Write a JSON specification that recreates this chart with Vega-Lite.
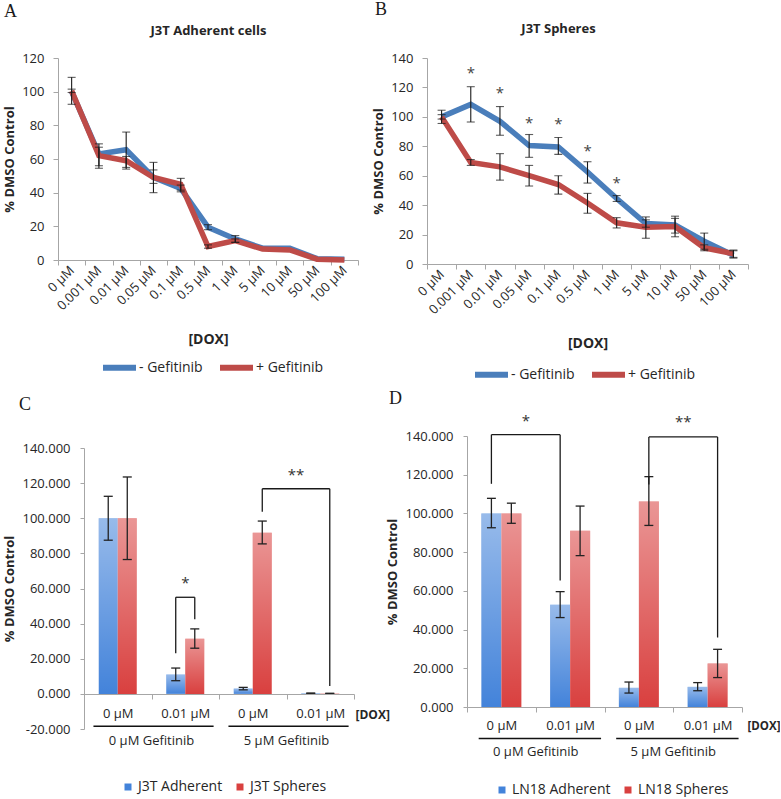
{
  "$schema": "https://vega.github.io/schema/vega-lite/v6.json",
  "background": "white",
  "padding": {"left": 3, "top": 1, "right": 0, "bottom": 0},
  "config": {
    "font": "Open Sans",
    "view": {"stroke": null},
    "axis": {"grid": false, "domainColor": "#a6a6a6", "tickColor": "#a6a6a6", "labelColor": "#262626", "labelFontSize": 13, "titleFontSize": 13, "titleFontWeight": "bold", "titleColor": "#262626", "labelFont": "Open Sans", "titleFont": "Open Sans", "labelOverlap": false},
    "legend": {"labelFontSize": 14, "labelColor": "#262626", "labelFont": "Open Sans"},
    "title": {"font": "Liberation Serif", "fontSize": 18, "fontWeight": "normal", "color": "#1a1a1a", "anchor": "start", "frame": "group"},
    "text": {"font": "Open Sans"}
  },
  "resolve": {"scale": {"color": "independent", "x": "independent", "y": "independent"}, "legend": {"color": "independent"}},
  "columns": 1,
  "align": "none",
  "spacing": 2,
  "concat": [
    {
      "hconcat": [
        {
          "hconcat": [
            {"width": 1, "height": 1, "data": {"values": [{"a": 1}]}, "mark": {"type": "point", "opacity": 0, "size": 0}, "encoding": {}},
            {
              "width": 300, "height": 202,
              "title": {"text": "A", "dx": -54, "offset": 3},
              "data": {"values": [
                {"dose": "0 µM", "gef": "- Gefitinib", "v": 100, "lo": 92.5, "hi": 108.5},
                {"dose": "0.001 µM", "gef": "- Gefitinib", "v": 63, "lo": 56, "hi": 69},
                {"dose": "0.01 µM", "gef": "- Gefitinib", "v": 65.5, "lo": 55, "hi": 76},
                {"dose": "0.05 µM", "gef": "- Gefitinib", "v": 49, "lo": 40, "hi": 58},
                {"dose": "0.1 µM", "gef": "- Gefitinib", "v": 42.5, "lo": 40.5, "hi": 44.5},
                {"dose": "0.5 µM", "gef": "- Gefitinib", "v": 19.5, "lo": 18, "hi": 21},
                {"dose": "1 µM", "gef": "- Gefitinib", "v": 12.5, "lo": 10.5, "hi": 14.5},
                {"dose": "5 µM", "gef": "- Gefitinib", "v": 7, "lo": null, "hi": null},
                {"dose": "10 µM", "gef": "- Gefitinib", "v": 7, "lo": null, "hi": null},
                {"dose": "50 µM", "gef": "- Gefitinib", "v": 0.8, "lo": null, "hi": null},
                {"dose": "100 µM", "gef": "- Gefitinib", "v": 0.4, "lo": null, "hi": null},
                {"dose": "0 µM", "gef": "+ Gefitinib", "v": 100.5, "lo": 99.5, "hi": 101.5},
                {"dose": "0.001 µM", "gef": "+ Gefitinib", "v": 62, "lo": 54.5, "hi": 67},
                {"dose": "0.01 µM", "gef": "+ Gefitinib", "v": 59, "lo": 54, "hi": 61.5},
                {"dose": "0.05 µM", "gef": "+ Gefitinib", "v": 49, "lo": 45.5, "hi": 53.5},
                {"dose": "0.1 µM", "gef": "+ Gefitinib", "v": 45, "lo": 41.5, "hi": 48.5},
                {"dose": "0.5 µM", "gef": "+ Gefitinib", "v": 8, "lo": 7, "hi": 9},
                {"dose": "1 µM", "gef": "+ Gefitinib", "v": 11.5, "lo": 10.5, "hi": 12.5},
                {"dose": "5 µM", "gef": "+ Gefitinib", "v": 6.5, "lo": null, "hi": null},
                {"dose": "10 µM", "gef": "+ Gefitinib", "v": 6, "lo": null, "hi": null},
                {"dose": "50 µM", "gef": "+ Gefitinib", "v": 0.5, "lo": null, "hi": null},
                {"dose": "100 µM", "gef": "+ Gefitinib", "v": 0, "lo": null, "hi": null}
              ]},
              "resolve": {"axis": {"x": "independent"}},
              "layer": [
                {
                  "transform": [{"filter": "datum.gef === '- Gefitinib'"}],
                  "mark": {"type": "line", "strokeWidth": 5.5},
                  "encoding": {
                    "x": {"field": "dose", "type": "ordinal", "sort": ["0 µM","0.001 µM","0.01 µM","0.05 µM","0.1 µM","0.5 µM","1 µM","5 µM","10 µM","50 µM","100 µM"], "scale": {"type": "band", "paddingInner": 0, "paddingOuter": 0}, "axis": {"title": "[DOX]", "labelAngle": -45, "labelAlign": "right", "labelBaseline": "middle", "tickBand": "extent", "tickSize": 5, "labelPadding": 3, "titlePadding": 20, "titleFontSize": 14}},
                    "y": {"field": "v", "type": "quantitative", "title": "% DMSO Control", "scale": {"domain": [0, 120]}, "axis": {"values": [0,20,40,60,80,100,120], "tickSize": 5, "labelPadding": 9, "titlePadding": 5}},
                    "color": {"field": "gef", "type": "nominal", "scale": {"domain": ["- Gefitinib", "+ Gefitinib"], "range": ["#4A7EBB", "#BE4B48"]}, "legend": {"title": null, "orient": "none", "direction": "horizontal", "legendX": 97, "legendY": 290, "symbolType": "stroke", "symbolSize": 1089, "symbolStrokeWidth": 6, "labelOffset": 0, "columnPadding": 5}}
                  }
                },
                {
                  "transform": [{"filter": "datum.gef === '+ Gefitinib'"}],
                  "mark": {"type": "line", "strokeWidth": 5.5},
                  "encoding": {
                    "x": {"field": "dose", "type": "ordinal", "sort": ["0 µM","0.001 µM","0.01 µM","0.05 µM","0.1 µM","0.5 µM","1 µM","5 µM","10 µM","50 µM","100 µM"], "scale": {"type": "band", "paddingInner": 0, "paddingOuter": 0}, "axis": null},
                    "y": {"field": "v", "type": "quantitative", "title": "% DMSO Control", "scale": {"domain": [0, 120]}, "axis": {"values": [0,20,40,60,80,100,120], "tickSize": 5, "labelPadding": 9, "titlePadding": 5}},
                    "color": {"field": "gef", "type": "nominal", "scale": {"domain": ["- Gefitinib", "+ Gefitinib"], "range": ["#4A7EBB", "#BE4B48"]}, "legend": {"title": null, "orient": "none", "direction": "horizontal", "legendX": 97, "legendY": 290, "symbolType": "stroke", "symbolSize": 1089, "symbolStrokeWidth": 6, "labelOffset": 0, "columnPadding": 5}}
                  }
                },
                {
                  "transform": [{"filter": "isValid(datum.lo)"}],
                  "mark": {"type": "rule", "color": "#1a1a1a", "strokeWidth": 1.1},
                  "encoding": {
                    "x": {"field": "dose", "type": "ordinal", "sort": ["0 µM","0.001 µM","0.01 µM","0.05 µM","0.1 µM","0.5 µM","1 µM","5 µM","10 µM","50 µM","100 µM"], "scale": {"type": "band", "paddingInner": 0, "paddingOuter": 0}, "axis": null},
                    "y": {"field": "lo", "type": "quantitative", "title": "% DMSO Control", "scale": {"domain": [0, 120]}, "axis": {"values": [0,20,40,60,80,100,120], "tickSize": 5, "labelPadding": 9, "titlePadding": 5}},
                    "y2": {"field": "hi"}
                  }
                },
                {
                  "transform": [{"filter": "isValid(datum.lo)"}],
                  "mark": {"type": "tick", "color": "#1a1a1a", "thickness": 1.1, "size": 8},
                  "encoding": {
                    "x": {"field": "dose", "type": "ordinal", "sort": ["0 µM","0.001 µM","0.01 µM","0.05 µM","0.1 µM","0.5 µM","1 µM","5 µM","10 µM","50 µM","100 µM"], "scale": {"type": "band", "paddingInner": 0, "paddingOuter": 0}, "axis": null},
                    "y": {"field": "lo", "type": "quantitative", "title": "% DMSO Control", "scale": {"domain": [0, 120]}, "axis": {"values": [0,20,40,60,80,100,120], "tickSize": 5, "labelPadding": 9, "titlePadding": 5}}
                  }
                },
                {
                  "transform": [{"filter": "isValid(datum.hi)"}],
                  "mark": {"type": "tick", "color": "#1a1a1a", "thickness": 1.1, "size": 8},
                  "encoding": {
                    "x": {"field": "dose", "type": "ordinal", "sort": ["0 µM","0.001 µM","0.01 µM","0.05 µM","0.1 µM","0.5 µM","1 µM","5 µM","10 µM","50 µM","100 µM"], "scale": {"type": "band", "paddingInner": 0, "paddingOuter": 0}, "axis": {"orient": "top", "title": "J3T Adherent cells", "labels": false, "ticks": false, "domain": false, "titlePadding": 21}},
                    "y": {"field": "hi", "type": "quantitative", "title": "% DMSO Control", "scale": {"domain": [0, 120]}, "axis": {"values": [0,20,40,60,80,100,120], "tickSize": 5, "labelPadding": 9, "titlePadding": 5}}
                  }
                }
              ]
            }
          ],
          "spacing": -1
        },
        {
          "width": 321, "height": 206,
          "title": {"text": "B", "dx": -52, "offset": 3},
          "data": {"values": [
            {"dose": "0 µM", "gef": "- Gefitinib", "v": 100, "lo": 95.5, "hi": 104.5},
            {"dose": "0.001 µM", "gef": "- Gefitinib", "v": 108.5, "lo": 96.5, "hi": 120.5},
            {"dose": "0.01 µM", "gef": "- Gefitinib", "v": 97, "lo": 87.5, "hi": 107},
            {"dose": "0.05 µM", "gef": "- Gefitinib", "v": 80.5, "lo": 72.5, "hi": 88},
            {"dose": "0.1 µM", "gef": "- Gefitinib", "v": 79.5, "lo": 74.5, "hi": 86},
            {"dose": "0.5 µM", "gef": "- Gefitinib", "v": 62.5, "lo": 55, "hi": 69.5},
            {"dose": "1 µM", "gef": "- Gefitinib", "v": 44.5, "lo": 42.5, "hi": 46.5},
            {"dose": "5 µM", "gef": "- Gefitinib", "v": 27.5, "lo": 25, "hi": 30},
            {"dose": "10 µM", "gef": "- Gefitinib", "v": 26.5, "lo": 21, "hi": 32.5},
            {"dose": "50 µM", "gef": "- Gefitinib", "v": 15.5, "lo": 10, "hi": 21},
            {"dose": "100 µM", "gef": "- Gefitinib", "v": 6, "lo": 4, "hi": 9},
            {"dose": "0 µM", "gef": "+ Gefitinib", "v": 100, "lo": 98.5, "hi": 101.5},
            {"dose": "0.001 µM", "gef": "+ Gefitinib", "v": 69, "lo": 67, "hi": 71},
            {"dose": "0.01 µM", "gef": "+ Gefitinib", "v": 66, "lo": 57, "hi": 75},
            {"dose": "0.05 µM", "gef": "+ Gefitinib", "v": 60, "lo": 53, "hi": 67},
            {"dose": "0.1 µM", "gef": "+ Gefitinib", "v": 54, "lo": 47.5, "hi": 60},
            {"dose": "0.5 µM", "gef": "+ Gefitinib", "v": 41.5, "lo": 34.5, "hi": 48},
            {"dose": "1 µM", "gef": "+ Gefitinib", "v": 28, "lo": 24.5, "hi": 31.5},
            {"dose": "5 µM", "gef": "+ Gefitinib", "v": 25, "lo": 17.5, "hi": 32},
            {"dose": "10 µM", "gef": "+ Gefitinib", "v": 25.5, "lo": 18.5, "hi": 31},
            {"dose": "50 µM", "gef": "+ Gefitinib", "v": 11, "lo": 9, "hi": 13},
            {"dose": "100 µM", "gef": "+ Gefitinib", "v": 7, "lo": 4.5, "hi": 9.5}
          ]},
          "resolve": {"axis": {"x": "independent"}},
          "layer": [
            {
              "transform": [{"filter": "datum.gef === '- Gefitinib'"}],
              "mark": {"type": "line", "strokeWidth": 5.5},
              "encoding": {
                "x": {"field": "dose", "type": "ordinal", "sort": ["0 µM","0.001 µM","0.01 µM","0.05 µM","0.1 µM","0.5 µM","1 µM","5 µM","10 µM","50 µM","100 µM"], "scale": {"type": "band", "paddingInner": 0, "paddingOuter": 0}, "axis": {"title": "[DOX]", "labelAngle": -45, "labelAlign": "right", "labelBaseline": "middle", "tickBand": "extent", "tickSize": 5, "labelPadding": 3, "titlePadding": 20, "titleFontSize": 14}},
                "y": {"field": "v", "type": "quantitative", "title": "% DMSO Control", "scale": {"domain": [0, 140]}, "axis": {"values": [0,20,40,60,80,100,120,140], "tickSize": 5, "labelPadding": 9, "titlePadding": 5}},
                "color": {"field": "gef", "type": "nominal", "scale": {"domain": ["- Gefitinib", "+ Gefitinib"], "range": ["#4A7EBB", "#BE4B48"]}, "legend": {"title": null, "orient": "none", "direction": "horizontal", "legendX": 45, "legendY": 297, "symbolType": "stroke", "symbolSize": 1089, "symbolStrokeWidth": 6, "labelOffset": 0, "columnPadding": 5}}
              }
            },
            {
              "transform": [{"filter": "datum.gef === '+ Gefitinib'"}],
              "mark": {"type": "line", "strokeWidth": 5.5},
              "encoding": {
                "x": {"field": "dose", "type": "ordinal", "sort": ["0 µM","0.001 µM","0.01 µM","0.05 µM","0.1 µM","0.5 µM","1 µM","5 µM","10 µM","50 µM","100 µM"], "scale": {"type": "band", "paddingInner": 0, "paddingOuter": 0}, "axis": null},
                "y": {"field": "v", "type": "quantitative", "title": "% DMSO Control", "scale": {"domain": [0, 140]}, "axis": {"values": [0,20,40,60,80,100,120,140], "tickSize": 5, "labelPadding": 9, "titlePadding": 5}},
                "color": {"field": "gef", "type": "nominal", "scale": {"domain": ["- Gefitinib", "+ Gefitinib"], "range": ["#4A7EBB", "#BE4B48"]}, "legend": {"title": null, "orient": "none", "direction": "horizontal", "legendX": 45, "legendY": 297, "symbolType": "stroke", "symbolSize": 1089, "symbolStrokeWidth": 6, "labelOffset": 0, "columnPadding": 5}}
              }
            },
            {
              "mark": {"type": "rule", "color": "#1a1a1a", "strokeWidth": 1.1},
              "encoding": {
                "x": {"field": "dose", "type": "ordinal", "sort": ["0 µM","0.001 µM","0.01 µM","0.05 µM","0.1 µM","0.5 µM","1 µM","5 µM","10 µM","50 µM","100 µM"], "scale": {"type": "band", "paddingInner": 0, "paddingOuter": 0}, "axis": null},
                "y": {"field": "lo", "type": "quantitative", "title": "% DMSO Control", "scale": {"domain": [0, 140]}, "axis": {"values": [0,20,40,60,80,100,120,140], "tickSize": 5, "labelPadding": 9, "titlePadding": 5}},
                "y2": {"field": "hi"}
              }
            },
            {
              "mark": {"type": "tick", "color": "#1a1a1a", "thickness": 1.1, "size": 8},
              "encoding": {
                "x": {"field": "dose", "type": "ordinal", "sort": ["0 µM","0.001 µM","0.01 µM","0.05 µM","0.1 µM","0.5 µM","1 µM","5 µM","10 µM","50 µM","100 µM"], "scale": {"type": "band", "paddingInner": 0, "paddingOuter": 0}, "axis": null},
                "y": {"field": "lo", "type": "quantitative", "title": "% DMSO Control", "scale": {"domain": [0, 140]}, "axis": {"values": [0,20,40,60,80,100,120,140], "tickSize": 5, "labelPadding": 9, "titlePadding": 5}}
              }
            },
            {
              "mark": {"type": "tick", "color": "#1a1a1a", "thickness": 1.1, "size": 8},
              "encoding": {
                "x": {"field": "dose", "type": "ordinal", "sort": ["0 µM","0.001 µM","0.01 µM","0.05 µM","0.1 µM","0.5 µM","1 µM","5 µM","10 µM","50 µM","100 µM"], "scale": {"type": "band", "paddingInner": 0, "paddingOuter": 0}, "axis": {"orient": "top", "title": "J3T Spheres", "labels": false, "ticks": false, "domain": false, "titlePadding": 23, "titleX": 131, "titleAlign": "center"}},
                "y": {"field": "hi", "type": "quantitative", "title": "% DMSO Control", "scale": {"domain": [0, 140]}, "axis": {"values": [0,20,40,60,80,100,120,140], "tickSize": 5, "labelPadding": 9, "titlePadding": 5}}
              }
            },
            {
              "data": {"values": [
                {"dose": "0.001 µM", "s": 129.6, "label": "*"},
                {"dose": "0.01 µM", "s": 116.1, "label": "*"},
                {"dose": "0.05 µM", "s": 96.1, "label": "*"},
                {"dose": "0.1 µM", "s": 95.4, "label": "*"},
                {"dose": "0.5 µM", "s": 77.1, "label": "*"},
                {"dose": "1 µM", "s": 55.3, "label": "*"}
              ]},
              "mark": {"type": "text", "fontSize": 15, "color": "#444444", "baseline": "middle"},
              "encoding": {
                "x": {"field": "dose", "type": "ordinal", "sort": ["0 µM","0.001 µM","0.01 µM","0.05 µM","0.1 µM","0.5 µM","1 µM","5 µM","10 µM","50 µM","100 µM"], "scale": {"type": "band", "paddingInner": 0, "paddingOuter": 0, "domain": ["0 µM","0.001 µM","0.01 µM","0.05 µM","0.1 µM","0.5 µM","1 µM","5 µM","10 µM","50 µM","100 µM"]}, "axis": null},
                "y": {"field": "s", "type": "quantitative", "title": "% DMSO Control", "scale": {"domain": [0, 140]}, "axis": {"values": [0,20,40,60,80,100,120,140], "tickSize": 5, "labelPadding": 9, "titlePadding": 5}},
                "text": {"field": "label"}
              }
            }
          ]
        }
      ],
      "spacing": 13,
      "resolve": {"scale": {"color": "independent", "x": "independent", "y": "independent"}, "legend": {"color": "independent"}}
    },
    {
      "hconcat": [
        {
          "hconcat": [
            {"width": 1, "height": 1, "data": {"values": [{"a": 1}]}, "mark": {"type": "point", "opacity": 0, "size": 0}, "encoding": {}},
            {
              "vconcat": [
                {
                  "width": 270, "height": 1,
                  "title": {"text": "C", "dx": -65, "offset": 22},
                  "data": {"values": [{"a": 1}]},
                  "mark": {"type": "point", "opacity": 0, "size": 0},
                  "encoding": {}
                },
                {
                  "width": 270, "height": 281,
                  "data": {"values": [
                    {"cond": "0 µM (0 µM Gefitinib)", "series": "J3T Adherent", "v": 100, "lo": 87.5, "hi": 112.5},
                    {"cond": "0 µM (0 µM Gefitinib)", "series": "J3T Spheres", "v": 100, "lo": 76.5, "hi": 123.5},
                    {"cond": "0.01 µM (0 µM Gefitinib)", "series": "J3T Adherent", "v": 11, "lo": 7.5, "hi": 14.7},
                    {"cond": "0.01 µM (0 µM Gefitinib)", "series": "J3T Spheres", "v": 31.4, "lo": 26, "hi": 37},
                    {"cond": "0 µM (5 µM Gefitinib)", "series": "J3T Adherent", "v": 3, "lo": 2.3, "hi": 3.7},
                    {"cond": "0 µM (5 µM Gefitinib)", "series": "J3T Spheres", "v": 91.8, "lo": 85.4, "hi": 98.4},
                    {"cond": "0.01 µM (5 µM Gefitinib)", "series": "J3T Adherent", "v": 0.3, "lo": 0.1, "hi": 0.5},
                    {"cond": "0.01 µM (5 µM Gefitinib)", "series": "J3T Spheres", "v": 0.2, "lo": 0.05, "hi": 0.35}
                  ]},
                  "layer": [
                    {
                      "transform": [{"filter": "datum.series === 'J3T Adherent'"}],
                      "mark": {"type": "rect"},
                      "encoding": {
                        "x": {"field": "cond", "type": "nominal", "title": "[DOX]", "bandPosition": 0.2185, "scale": {"type": "band", "domain": ["0 µM (0 µM Gefitinib)", "0.01 µM (0 µM Gefitinib)", "0 µM (5 µM Gefitinib)", "0.01 µM (5 µM Gefitinib)"], "paddingInner": 0, "paddingOuter": 0}, "axis": {"offset": -35, "labelExpr": "split(datum.label, ' (')[0]", "labelAngle": 0, "tickBand": "extent", "tickSize": 5, "labelPadding": 8, "titleX": 271, "titleY": 20, "titleAlign": "left", "titleBaseline": "middle", "titleAngle": 0, "titleFontSize": 12}},
                        "x2": {"field": "cond", "bandPosition": 0.5},
                        "y": {"field": "v", "type": "quantitative", "title": "% DMSO Control", "scale": {"domain": [-20, 140]}, "axis": {"values": [-20,0,20,40,60,80,100,120,140], "labelExpr": "replace(format(datum.value, '.3f'), '−', '-')", "tickSize": 4, "labelPadding": 10, "titlePadding": 5, "labelOverlap": false}},
                        "y2": {"datum": 0},
                        "color": {"field": "series", "type": "nominal", "scale": {"domain": ["J3T Adherent", "J3T Spheres"], "range": ["#4383da", "#d9403f"]}, "legend": {"title": null, "orient": "none", "direction": "horizontal", "legendX": 118, "legendY": 344, "symbolType": "square", "symbolSize": 49, "symbolStrokeWidth": 0, "labelOffset": 3, "columnPadding": 10}}
                      }
                    },
                    {
                      "transform": [{"filter": "datum.series === 'J3T Spheres'"}],
                      "mark": {"type": "rect"},
                      "encoding": {
                        "x": {"field": "cond", "type": "nominal", "title": "[DOX]", "bandPosition": 0.5, "scale": {"type": "band", "domain": ["0 µM (0 µM Gefitinib)", "0.01 µM (0 µM Gefitinib)", "0 µM (5 µM Gefitinib)", "0.01 µM (5 µM Gefitinib)"], "paddingInner": 0, "paddingOuter": 0}, "axis": {"offset": -35, "labelExpr": "split(datum.label, ' (')[0]", "labelAngle": 0, "tickBand": "extent", "tickSize": 5, "labelPadding": 8, "titleX": 271, "titleY": 20, "titleAlign": "left", "titleBaseline": "middle", "titleAngle": 0, "titleFontSize": 12}},
                        "x2": {"field": "cond", "bandPosition": 0.7815},
                        "y": {"field": "v", "type": "quantitative", "title": "% DMSO Control", "scale": {"domain": [-20, 140]}, "axis": {"values": [-20,0,20,40,60,80,100,120,140], "labelExpr": "replace(format(datum.value, '.3f'), '−', '-')", "tickSize": 4, "labelPadding": 10, "titlePadding": 5, "labelOverlap": false}},
                        "y2": {"datum": 0},
                        "color": {"field": "series", "type": "nominal", "scale": {"domain": ["J3T Adherent", "J3T Spheres"], "range": ["#4383da", "#d9403f"]}, "legend": {"title": null, "orient": "none", "direction": "horizontal", "legendX": 118, "legendY": 344, "symbolType": "square", "symbolSize": 49, "symbolStrokeWidth": 0, "labelOffset": 3, "columnPadding": 10}}
                      }
                    },
                    {
                      "transform": [{"filter": "datum.series === 'J3T Adherent'"}],
                      "mark": {"type": "rect", "fill": {"gradient": "linear", "x1": 0, "y1": 0, "x2": 0, "y2": 1, "stops": [{"offset": 0, "color": "rgba(255,255,255,0.45)"}, {"offset": 1, "color": "rgba(255,255,255,0)"}]}},
                      "encoding": {
                        "x": {"field": "cond", "type": "nominal", "title": "[DOX]", "bandPosition": 0.2185, "scale": {"type": "band", "domain": ["0 µM (0 µM Gefitinib)", "0.01 µM (0 µM Gefitinib)", "0 µM (5 µM Gefitinib)", "0.01 µM (5 µM Gefitinib)"], "paddingInner": 0, "paddingOuter": 0}, "axis": {"offset": -35, "labelExpr": "split(datum.label, ' (')[0]", "labelAngle": 0, "tickBand": "extent", "tickSize": 5, "labelPadding": 8, "titleX": 271, "titleY": 20, "titleAlign": "left", "titleBaseline": "middle", "titleAngle": 0, "titleFontSize": 12}},
                        "x2": {"field": "cond", "bandPosition": 0.5},
                        "y": {"field": "v", "type": "quantitative", "title": "% DMSO Control", "scale": {"domain": [-20, 140]}, "axis": {"values": [-20,0,20,40,60,80,100,120,140], "labelExpr": "replace(format(datum.value, '.3f'), '−', '-')", "tickSize": 4, "labelPadding": 10, "titlePadding": 5, "labelOverlap": false}},
                        "y2": {"datum": 0}
                      }
                    },
                    {
                      "transform": [{"filter": "datum.series === 'J3T Spheres'"}],
                      "mark": {"type": "rect", "fill": {"gradient": "linear", "x1": 0, "y1": 0, "x2": 0, "y2": 1, "stops": [{"offset": 0, "color": "rgba(255,255,255,0.45)"}, {"offset": 1, "color": "rgba(255,255,255,0)"}]}},
                      "encoding": {
                        "x": {"field": "cond", "type": "nominal", "title": "[DOX]", "bandPosition": 0.5, "scale": {"type": "band", "domain": ["0 µM (0 µM Gefitinib)", "0.01 µM (0 µM Gefitinib)", "0 µM (5 µM Gefitinib)", "0.01 µM (5 µM Gefitinib)"], "paddingInner": 0, "paddingOuter": 0}, "axis": {"offset": -35, "labelExpr": "split(datum.label, ' (')[0]", "labelAngle": 0, "tickBand": "extent", "tickSize": 5, "labelPadding": 8, "titleX": 271, "titleY": 20, "titleAlign": "left", "titleBaseline": "middle", "titleAngle": 0, "titleFontSize": 12}},
                        "x2": {"field": "cond", "bandPosition": 0.7815},
                        "y": {"field": "v", "type": "quantitative", "title": "% DMSO Control", "scale": {"domain": [-20, 140]}, "axis": {"values": [-20,0,20,40,60,80,100,120,140], "labelExpr": "replace(format(datum.value, '.3f'), '−', '-')", "tickSize": 4, "labelPadding": 10, "titlePadding": 5, "labelOverlap": false}},
                        "y2": {"datum": 0}
                      }
                    },
                    {
                      "transform": [{"filter": "datum.series === 'J3T Adherent'"}],
                      "mark": {"type": "rule", "color": "#222222", "strokeWidth": 1.3},
                      "encoding": {
                        "x": {"field": "cond", "type": "nominal", "title": "[DOX]", "bandPosition": 0.359, "scale": {"type": "band", "domain": ["0 µM (0 µM Gefitinib)", "0.01 µM (0 µM Gefitinib)", "0 µM (5 µM Gefitinib)", "0.01 µM (5 µM Gefitinib)"], "paddingInner": 0, "paddingOuter": 0}, "axis": {"offset": -35, "labelExpr": "split(datum.label, ' (')[0]", "labelAngle": 0, "tickBand": "extent", "tickSize": 5, "labelPadding": 8, "titleX": 271, "titleY": 20, "titleAlign": "left", "titleBaseline": "middle", "titleAngle": 0, "titleFontSize": 12}},
                        "y": {"field": "lo", "type": "quantitative", "title": "% DMSO Control", "scale": {"domain": [-20, 140]}, "axis": {"values": [-20,0,20,40,60,80,100,120,140], "labelExpr": "replace(format(datum.value, '.3f'), '−', '-')", "tickSize": 4, "labelPadding": 10, "titlePadding": 5, "labelOverlap": false}},
                        "y2": {"field": "hi"}
                      }
                    },
                    {
                      "transform": [{"filter": "datum.series === 'J3T Spheres'"}],
                      "mark": {"type": "rule", "color": "#222222", "strokeWidth": 1.3},
                      "encoding": {
                        "x": {"field": "cond", "type": "nominal", "title": "[DOX]", "bandPosition": 0.641, "scale": {"type": "band", "domain": ["0 µM (0 µM Gefitinib)", "0.01 µM (0 µM Gefitinib)", "0 µM (5 µM Gefitinib)", "0.01 µM (5 µM Gefitinib)"], "paddingInner": 0, "paddingOuter": 0}, "axis": {"offset": -35, "labelExpr": "split(datum.label, ' (')[0]", "labelAngle": 0, "tickBand": "extent", "tickSize": 5, "labelPadding": 8, "titleX": 271, "titleY": 20, "titleAlign": "left", "titleBaseline": "middle", "titleAngle": 0, "titleFontSize": 12}},
                        "y": {"field": "lo", "type": "quantitative", "title": "% DMSO Control", "scale": {"domain": [-20, 140]}, "axis": {"values": [-20,0,20,40,60,80,100,120,140], "labelExpr": "replace(format(datum.value, '.3f'), '−', '-')", "tickSize": 4, "labelPadding": 10, "titlePadding": 5, "labelOverlap": false}},
                        "y2": {"field": "hi"}
                      }
                    },
                    {
                      "transform": [{"filter": "datum.series === 'J3T Adherent'"}, {"fold": ["lo", "hi"], "as": ["k", "cap"]}],
                      "mark": {"type": "rule", "color": "#222222", "strokeWidth": 1.3},
                      "encoding": {
                        "x": {"field": "cond", "type": "nominal", "title": "[DOX]", "bandPosition": 0.292, "scale": {"type": "band", "domain": ["0 µM (0 µM Gefitinib)", "0.01 µM (0 µM Gefitinib)", "0 µM (5 µM Gefitinib)", "0.01 µM (5 µM Gefitinib)"], "paddingInner": 0, "paddingOuter": 0}, "axis": {"offset": -35, "labelExpr": "split(datum.label, ' (')[0]", "labelAngle": 0, "tickBand": "extent", "tickSize": 5, "labelPadding": 8, "titleX": 271, "titleY": 20, "titleAlign": "left", "titleBaseline": "middle", "titleAngle": 0, "titleFontSize": 12}},
                        "x2": {"field": "cond", "bandPosition": 0.426},
                        "y": {"field": "cap", "type": "quantitative", "title": "% DMSO Control", "scale": {"domain": [-20, 140]}, "axis": {"values": [-20,0,20,40,60,80,100,120,140], "labelExpr": "replace(format(datum.value, '.3f'), '−', '-')", "tickSize": 4, "labelPadding": 10, "titlePadding": 5, "labelOverlap": false}}
                      }
                    },
                    {
                      "transform": [{"filter": "datum.series === 'J3T Spheres'"}, {"fold": ["lo", "hi"], "as": ["k", "cap"]}],
                      "mark": {"type": "rule", "color": "#222222", "strokeWidth": 1.3},
                      "encoding": {
                        "x": {"field": "cond", "type": "nominal", "title": "[DOX]", "bandPosition": 0.574, "scale": {"type": "band", "domain": ["0 µM (0 µM Gefitinib)", "0.01 µM (0 µM Gefitinib)", "0 µM (5 µM Gefitinib)", "0.01 µM (5 µM Gefitinib)"], "paddingInner": 0, "paddingOuter": 0}, "axis": {"offset": -35, "labelExpr": "split(datum.label, ' (')[0]", "labelAngle": 0, "tickBand": "extent", "tickSize": 5, "labelPadding": 8, "titleX": 271, "titleY": 20, "titleAlign": "left", "titleBaseline": "middle", "titleAngle": 0, "titleFontSize": 12}},
                        "x2": {"field": "cond", "bandPosition": 0.708},
                        "y": {"field": "cap", "type": "quantitative", "title": "% DMSO Control", "scale": {"domain": [-20, 140]}, "axis": {"values": [-20,0,20,40,60,80,100,120,140], "labelExpr": "replace(format(datum.value, '.3f'), '−', '-')", "tickSize": 4, "labelPadding": 10, "titlePadding": 5, "labelOverlap": false}}
                      }
                    },
                    {
                      "data": {"values": [{"cond": "0.01 µM (0 µM Gefitinib)", "y1": 23.2, "y2": 55}]},
                      "mark": {"type": "rule", "color": "#1a1a1a", "strokeWidth": 1.3},
                      "encoding": {
                        "x": {"field": "cond", "type": "nominal", "title": "[DOX]", "bandPosition": 0.359, "scale": {"type": "band", "domain": ["0 µM (0 µM Gefitinib)", "0.01 µM (0 µM Gefitinib)", "0 µM (5 µM Gefitinib)", "0.01 µM (5 µM Gefitinib)"], "paddingInner": 0, "paddingOuter": 0}, "axis": {"offset": -35, "labelExpr": "split(datum.label, ' (')[0]", "labelAngle": 0, "tickBand": "extent", "tickSize": 5, "labelPadding": 8, "titleX": 271, "titleY": 20, "titleAlign": "left", "titleBaseline": "middle", "titleAngle": 0, "titleFontSize": 12}},
                        "y": {"field": "y1", "type": "quantitative", "title": "% DMSO Control", "scale": {"domain": [-20, 140]}, "axis": {"values": [-20,0,20,40,60,80,100,120,140], "labelExpr": "replace(format(datum.value, '.3f'), '−', '-')", "tickSize": 4, "labelPadding": 10, "titlePadding": 5, "labelOverlap": false}},
                        "y2": {"field": "y2"}
                      }
                    },
                    {
                      "data": {"values": [
                        {"cond": "0.01 µM (0 µM Gefitinib)", "y1": 42.5, "y2": 55},
                        {"cond": "0 µM (5 µM Gefitinib)", "y1": 103.7, "y2": 116.8},
                        {"cond": "0.01 µM (5 µM Gefitinib)", "y1": 4.5, "y2": 116.8}
                      ]},
                      "mark": {"type": "rule", "color": "#1a1a1a", "strokeWidth": 1.3},
                      "encoding": {
                        "x": {"field": "cond", "type": "nominal", "title": "[DOX]", "bandPosition": 0.641, "scale": {"type": "band", "domain": ["0 µM (0 µM Gefitinib)", "0.01 µM (0 µM Gefitinib)", "0 µM (5 µM Gefitinib)", "0.01 µM (5 µM Gefitinib)"], "paddingInner": 0, "paddingOuter": 0}, "axis": {"offset": -35, "labelExpr": "split(datum.label, ' (')[0]", "labelAngle": 0, "tickBand": "extent", "tickSize": 5, "labelPadding": 8, "titleX": 271, "titleY": 20, "titleAlign": "left", "titleBaseline": "middle", "titleAngle": 0, "titleFontSize": 12}},
                        "y": {"field": "y1", "type": "quantitative", "title": "% DMSO Control", "scale": {"domain": [-20, 140]}, "axis": {"values": [-20,0,20,40,60,80,100,120,140], "labelExpr": "replace(format(datum.value, '.3f'), '−', '-')", "tickSize": 4, "labelPadding": 10, "titlePadding": 5, "labelOverlap": false}},
                        "y2": {"field": "y2"}
                      }
                    },
                    {
                      "data": {"values": [{"from": "0.01 µM (0 µM Gefitinib)", "to": "0.01 µM (0 µM Gefitinib)", "y1": 55}]},
                      "mark": {"type": "rule", "color": "#1a1a1a", "strokeWidth": 1.3},
                      "encoding": {
                        "x": {"field": "from", "type": "nominal", "title": "[DOX]", "bandPosition": 0.359, "scale": {"type": "band", "domain": ["0 µM (0 µM Gefitinib)", "0.01 µM (0 µM Gefitinib)", "0 µM (5 µM Gefitinib)", "0.01 µM (5 µM Gefitinib)"], "paddingInner": 0, "paddingOuter": 0}, "axis": {"offset": -35, "labelExpr": "split(datum.label, ' (')[0]", "labelAngle": 0, "tickBand": "extent", "tickSize": 5, "labelPadding": 8, "titleX": 271, "titleY": 20, "titleAlign": "left", "titleBaseline": "middle", "titleAngle": 0, "titleFontSize": 12}},
                        "x2": {"field": "to", "bandPosition": 0.641},
                        "y": {"field": "y1", "type": "quantitative", "title": "% DMSO Control", "scale": {"domain": [-20, 140]}, "axis": {"values": [-20,0,20,40,60,80,100,120,140], "labelExpr": "replace(format(datum.value, '.3f'), '−', '-')", "tickSize": 4, "labelPadding": 10, "titlePadding": 5, "labelOverlap": false}}
                      }
                    },
                    {
                      "data": {"values": [{"from": "0 µM (5 µM Gefitinib)", "to": "0.01 µM (5 µM Gefitinib)", "y1": 116.8}]},
                      "mark": {"type": "rule", "color": "#1a1a1a", "strokeWidth": 1.3},
                      "encoding": {
                        "x": {"field": "from", "type": "nominal", "title": "[DOX]", "bandPosition": 0.641, "scale": {"type": "band", "domain": ["0 µM (0 µM Gefitinib)", "0.01 µM (0 µM Gefitinib)", "0 µM (5 µM Gefitinib)", "0.01 µM (5 µM Gefitinib)"], "paddingInner": 0, "paddingOuter": 0}, "axis": {"offset": -35, "labelExpr": "split(datum.label, ' (')[0]", "labelAngle": 0, "tickBand": "extent", "tickSize": 5, "labelPadding": 8, "titleX": 271, "titleY": 20, "titleAlign": "left", "titleBaseline": "middle", "titleAngle": 0, "titleFontSize": 12}},
                        "x2": {"field": "to", "bandPosition": 0.641},
                        "y": {"field": "y1", "type": "quantitative", "title": "% DMSO Control", "scale": {"domain": [-20, 140]}, "axis": {"values": [-20,0,20,40,60,80,100,120,140], "labelExpr": "replace(format(datum.value, '.3f'), '−', '-')", "tickSize": 4, "labelPadding": 10, "titlePadding": 5, "labelOverlap": false}}
                      }
                    },
                    {
                      "data": {"values": [{"cond": "0.01 µM (0 µM Gefitinib)", "s": 63.2, "label": "*"}]},
                      "mark": {"type": "text", "fontSize": 15, "color": "#333333", "baseline": "middle"},
                      "encoding": {
                        "x": {"field": "cond", "type": "nominal", "title": "[DOX]", "scale": {"type": "band", "domain": ["0 µM (0 µM Gefitinib)", "0.01 µM (0 µM Gefitinib)", "0 µM (5 µM Gefitinib)", "0.01 µM (5 µM Gefitinib)"], "paddingInner": 0, "paddingOuter": 0}, "axis": {"offset": -35, "labelExpr": "split(datum.label, ' (')[0]", "labelAngle": 0, "tickBand": "extent", "tickSize": 5, "labelPadding": 8, "titleX": 271, "titleY": 20, "titleAlign": "left", "titleBaseline": "middle", "titleAngle": 0, "titleFontSize": 12}},
                        "y": {"field": "s", "type": "quantitative", "title": "% DMSO Control", "scale": {"domain": [-20, 140]}, "axis": {"values": [-20,0,20,40,60,80,100,120,140], "labelExpr": "replace(format(datum.value, '.3f'), '−', '-')", "tickSize": 4, "labelPadding": 10, "titlePadding": 5, "labelOverlap": false}},
                        "text": {"field": "label"}
                      }
                    },
                    {
                      "data": {"values": [{"cond": "0.01 µM (5 µM Gefitinib)", "s": 124.4, "label": "**"}]},
                      "mark": {"type": "text", "fontSize": 15, "color": "#333333", "baseline": "middle"},
                      "encoding": {
                        "x": {"field": "cond", "type": "nominal", "title": "[DOX]", "bandPosition": 0.141, "scale": {"type": "band", "domain": ["0 µM (0 µM Gefitinib)", "0.01 µM (0 µM Gefitinib)", "0 µM (5 µM Gefitinib)", "0.01 µM (5 µM Gefitinib)"], "paddingInner": 0, "paddingOuter": 0}, "axis": {"offset": -35, "labelExpr": "split(datum.label, ' (')[0]", "labelAngle": 0, "tickBand": "extent", "tickSize": 5, "labelPadding": 8, "titleX": 271, "titleY": 20, "titleAlign": "left", "titleBaseline": "middle", "titleAngle": 0, "titleFontSize": 12}},
                        "y": {"field": "s", "type": "quantitative", "title": "% DMSO Control", "scale": {"domain": [-20, 140]}, "axis": {"values": [-20,0,20,40,60,80,100,120,140], "labelExpr": "replace(format(datum.value, '.3f'), '−', '-')", "tickSize": 4, "labelPadding": 10, "titlePadding": 5, "labelOverlap": false}},
                        "text": {"field": "label"}
                      }
                    },
                    {
                      "data": {"values": [
                        {"gef": "0 µM Gefitinib", "from": "0 µM (0 µM Gefitinib)", "to": "0.01 µM (0 µM Gefitinib)"},
                        {"gef": "5 µM Gefitinib", "from": "0 µM (5 µM Gefitinib)", "to": "0.01 µM (5 µM Gefitinib)"}
                      ]},
                      "mark": {"type": "text", "fontSize": 13, "color": "#262626", "baseline": "middle"},
                      "encoding": {
                        "x": {"field": "from", "type": "nominal", "title": "[DOX]", "bandPosition": 1, "scale": {"type": "band", "domain": ["0 µM (0 µM Gefitinib)", "0.01 µM (0 µM Gefitinib)", "0 µM (5 µM Gefitinib)", "0.01 µM (5 µM Gefitinib)"], "paddingInner": 0, "paddingOuter": 0}, "axis": {"offset": -35, "labelExpr": "split(datum.label, ' (')[0]", "labelAngle": 0, "tickBand": "extent", "tickSize": 5, "labelPadding": 8, "titleX": 271, "titleY": 20, "titleAlign": "left", "titleBaseline": "middle", "titleAngle": 0, "titleFontSize": 12}},
                        "y": {"datum": -26.6, "type": "quantitative", "title": "% DMSO Control", "scale": {"domain": [-20, 140]}, "axis": {"values": [-20,0,20,40,60,80,100,120,140], "labelExpr": "replace(format(datum.value, '.3f'), '−', '-')", "tickSize": 4, "labelPadding": 10, "titlePadding": 5, "labelOverlap": false}},
                        "text": {"field": "gef"}
                      }
                    },
                    {
                      "data": {"values": [
                        {"gef": "0 µM Gefitinib", "from": "0 µM (0 µM Gefitinib)", "to": "0.01 µM (0 µM Gefitinib)"},
                        {"gef": "5 µM Gefitinib", "from": "0 µM (5 µM Gefitinib)", "to": "0.01 µM (5 µM Gefitinib)"}
                      ]},
                      "mark": {"type": "rule", "color": "#111111", "strokeWidth": 1.5},
                      "encoding": {
                        "x": {"field": "from", "type": "nominal", "title": "[DOX]", "bandPosition": 0.14, "scale": {"type": "band", "domain": ["0 µM (0 µM Gefitinib)", "0.01 µM (0 µM Gefitinib)", "0 µM (5 µM Gefitinib)", "0.01 µM (5 µM Gefitinib)"], "paddingInner": 0, "paddingOuter": 0}, "axis": {"offset": -35, "labelExpr": "split(datum.label, ' (')[0]", "labelAngle": 0, "tickBand": "extent", "tickSize": 5, "labelPadding": 8, "titleX": 271, "titleY": 20, "titleAlign": "left", "titleBaseline": "middle", "titleAngle": 0, "titleFontSize": 12}},
                        "x2": {"field": "to", "bandPosition": 0.92},
                        "y": {"datum": -18.4, "type": "quantitative", "title": "% DMSO Control", "scale": {"domain": [-20, 140]}, "axis": {"values": [-20,0,20,40,60,80,100,120,140], "labelExpr": "replace(format(datum.value, '.3f'), '−', '-')", "tickSize": 4, "labelPadding": 10, "titlePadding": 5, "labelOverlap": false}}
                      }
                    }
                  ]
                }
              ],
              "spacing": 5
            }
          ],
          "spacing": -1
        },
        {
          "width": 275, "height": 271,
          "title": {"text": "D", "dx": -78, "offset": 6},
          "data": {"values": [
            {"cond": "0 µM (0 µM Gefitinib)", "series": "LN18 Adherent", "v": 100, "lo": 92.6, "hi": 107.8},
            {"cond": "0 µM (0 µM Gefitinib)", "series": "LN18 Spheres", "v": 100, "lo": 94.9, "hi": 105.3},
            {"cond": "0.01 µM (0 µM Gefitinib)", "series": "LN18 Adherent", "v": 52.8, "lo": 46.2, "hi": 59.6},
            {"cond": "0.01 µM (0 µM Gefitinib)", "series": "LN18 Spheres", "v": 91, "lo": 78.2, "hi": 103.8},
            {"cond": "0 µM (5 µM Gefitinib)", "series": "LN18 Adherent", "v": 9.9, "lo": 7.2, "hi": 12.9},
            {"cond": "0 µM (5 µM Gefitinib)", "series": "LN18 Spheres", "v": 106.2, "lo": 93.8, "hi": 119},
            {"cond": "0.01 µM (5 µM Gefitinib)", "series": "LN18 Adherent", "v": 10.4, "lo": 8.4, "hi": 12.6},
            {"cond": "0.01 µM (5 µM Gefitinib)", "series": "LN18 Spheres", "v": 22.5, "lo": 15.2, "hi": 29.8}
          ]},
          "layer": [
            {
              "transform": [{"filter": "datum.series === 'LN18 Adherent'"}],
              "mark": {"type": "rect"},
              "encoding": {
                "x": {"field": "cond", "type": "nominal", "title": "[DOX]", "bandPosition": 0.209, "scale": {"type": "band", "domain": ["0 µM (0 µM Gefitinib)", "0.01 µM (0 µM Gefitinib)", "0 µM (5 µM Gefitinib)", "0.01 µM (5 µM Gefitinib)"], "paddingInner": 0, "paddingOuter": 0}, "axis": {"labelExpr": "split(datum.label, ' (')[0]", "labelAngle": 0, "tickBand": "extent", "tickSize": 5, "labelPadding": 7, "titleX": 280, "titleY": 19, "titleAlign": "left", "titleBaseline": "middle", "titleAngle": 0, "titleFontSize": 11.5}},
                "x2": {"field": "cond", "bandPosition": 0.5},
                "y": {"field": "v", "type": "quantitative", "title": "% DMSO Control", "scale": {"domain": [0, 140]}, "axis": {"values": [0,20,40,60,80,100,120,140], "format": ".3f", "tickSize": 4, "labelPadding": 10, "titlePadding": 5, "labelOverlap": false}},
                "y2": {"datum": 0},
                "color": {"field": "series", "type": "nominal", "scale": {"domain": ["LN18 Adherent", "LN18 Spheres"], "range": ["#4383da", "#d9403f"]}, "legend": {"title": null, "orient": "none", "direction": "horizontal", "legendX": 28, "legendY": 347, "symbolType": "square", "symbolSize": 49, "symbolStrokeWidth": 0, "labelOffset": 3, "columnPadding": 10}}
              }
            },
            {
              "transform": [{"filter": "datum.series === 'LN18 Spheres'"}],
              "mark": {"type": "rect"},
              "encoding": {
                "x": {"field": "cond", "type": "nominal", "title": "[DOX]", "bandPosition": 0.5, "scale": {"type": "band", "domain": ["0 µM (0 µM Gefitinib)", "0.01 µM (0 µM Gefitinib)", "0 µM (5 µM Gefitinib)", "0.01 µM (5 µM Gefitinib)"], "paddingInner": 0, "paddingOuter": 0}, "axis": {"labelExpr": "split(datum.label, ' (')[0]", "labelAngle": 0, "tickBand": "extent", "tickSize": 5, "labelPadding": 7, "titleX": 280, "titleY": 19, "titleAlign": "left", "titleBaseline": "middle", "titleAngle": 0, "titleFontSize": 11.5}},
                "x2": {"field": "cond", "bandPosition": 0.791},
                "y": {"field": "v", "type": "quantitative", "title": "% DMSO Control", "scale": {"domain": [0, 140]}, "axis": {"values": [0,20,40,60,80,100,120,140], "format": ".3f", "tickSize": 4, "labelPadding": 10, "titlePadding": 5, "labelOverlap": false}},
                "y2": {"datum": 0},
                "color": {"field": "series", "type": "nominal", "scale": {"domain": ["LN18 Adherent", "LN18 Spheres"], "range": ["#4383da", "#d9403f"]}, "legend": {"title": null, "orient": "none", "direction": "horizontal", "legendX": 28, "legendY": 347, "symbolType": "square", "symbolSize": 49, "symbolStrokeWidth": 0, "labelOffset": 3, "columnPadding": 10}}
              }
            },
            {
              "transform": [{"filter": "datum.series === 'LN18 Adherent'"}],
              "mark": {"type": "rect", "fill": {"gradient": "linear", "x1": 0, "y1": 0, "x2": 0, "y2": 1, "stops": [{"offset": 0, "color": "rgba(255,255,255,0.45)"}, {"offset": 1, "color": "rgba(255,255,255,0)"}]}},
              "encoding": {
                "x": {"field": "cond", "type": "nominal", "title": "[DOX]", "bandPosition": 0.209, "scale": {"type": "band", "domain": ["0 µM (0 µM Gefitinib)", "0.01 µM (0 µM Gefitinib)", "0 µM (5 µM Gefitinib)", "0.01 µM (5 µM Gefitinib)"], "paddingInner": 0, "paddingOuter": 0}, "axis": {"labelExpr": "split(datum.label, ' (')[0]", "labelAngle": 0, "tickBand": "extent", "tickSize": 5, "labelPadding": 7, "titleX": 280, "titleY": 19, "titleAlign": "left", "titleBaseline": "middle", "titleAngle": 0, "titleFontSize": 11.5}},
                "x2": {"field": "cond", "bandPosition": 0.5},
                "y": {"field": "v", "type": "quantitative", "title": "% DMSO Control", "scale": {"domain": [0, 140]}, "axis": {"values": [0,20,40,60,80,100,120,140], "format": ".3f", "tickSize": 4, "labelPadding": 10, "titlePadding": 5, "labelOverlap": false}},
                "y2": {"datum": 0}
              }
            },
            {
              "transform": [{"filter": "datum.series === 'LN18 Spheres'"}],
              "mark": {"type": "rect", "fill": {"gradient": "linear", "x1": 0, "y1": 0, "x2": 0, "y2": 1, "stops": [{"offset": 0, "color": "rgba(255,255,255,0.45)"}, {"offset": 1, "color": "rgba(255,255,255,0)"}]}},
              "encoding": {
                "x": {"field": "cond", "type": "nominal", "title": "[DOX]", "bandPosition": 0.5, "scale": {"type": "band", "domain": ["0 µM (0 µM Gefitinib)", "0.01 µM (0 µM Gefitinib)", "0 µM (5 µM Gefitinib)", "0.01 µM (5 µM Gefitinib)"], "paddingInner": 0, "paddingOuter": 0}, "axis": {"labelExpr": "split(datum.label, ' (')[0]", "labelAngle": 0, "tickBand": "extent", "tickSize": 5, "labelPadding": 7, "titleX": 280, "titleY": 19, "titleAlign": "left", "titleBaseline": "middle", "titleAngle": 0, "titleFontSize": 11.5}},
                "x2": {"field": "cond", "bandPosition": 0.791},
                "y": {"field": "v", "type": "quantitative", "title": "% DMSO Control", "scale": {"domain": [0, 140]}, "axis": {"values": [0,20,40,60,80,100,120,140], "format": ".3f", "tickSize": 4, "labelPadding": 10, "titlePadding": 5, "labelOverlap": false}},
                "y2": {"datum": 0}
              }
            },
            {
              "transform": [{"filter": "datum.series === 'LN18 Adherent'"}],
              "mark": {"type": "rule", "color": "#222222", "strokeWidth": 1.3},
              "encoding": {
                "x": {"field": "cond", "type": "nominal", "title": "[DOX]", "bandPosition": 0.355, "scale": {"type": "band", "domain": ["0 µM (0 µM Gefitinib)", "0.01 µM (0 µM Gefitinib)", "0 µM (5 µM Gefitinib)", "0.01 µM (5 µM Gefitinib)"], "paddingInner": 0, "paddingOuter": 0}, "axis": {"labelExpr": "split(datum.label, ' (')[0]", "labelAngle": 0, "tickBand": "extent", "tickSize": 5, "labelPadding": 7, "titleX": 280, "titleY": 19, "titleAlign": "left", "titleBaseline": "middle", "titleAngle": 0, "titleFontSize": 11.5}},
                "y": {"field": "lo", "type": "quantitative", "title": "% DMSO Control", "scale": {"domain": [0, 140]}, "axis": {"values": [0,20,40,60,80,100,120,140], "format": ".3f", "tickSize": 4, "labelPadding": 10, "titlePadding": 5, "labelOverlap": false}},
                "y2": {"field": "hi"}
              }
            },
            {
              "transform": [{"filter": "datum.series === 'LN18 Spheres'"}],
              "mark": {"type": "rule", "color": "#222222", "strokeWidth": 1.3},
              "encoding": {
                "x": {"field": "cond", "type": "nominal", "title": "[DOX]", "bandPosition": 0.645, "scale": {"type": "band", "domain": ["0 µM (0 µM Gefitinib)", "0.01 µM (0 µM Gefitinib)", "0 µM (5 µM Gefitinib)", "0.01 µM (5 µM Gefitinib)"], "paddingInner": 0, "paddingOuter": 0}, "axis": {"labelExpr": "split(datum.label, ' (')[0]", "labelAngle": 0, "tickBand": "extent", "tickSize": 5, "labelPadding": 7, "titleX": 280, "titleY": 19, "titleAlign": "left", "titleBaseline": "middle", "titleAngle": 0, "titleFontSize": 11.5}},
                "y": {"field": "lo", "type": "quantitative", "title": "% DMSO Control", "scale": {"domain": [0, 140]}, "axis": {"values": [0,20,40,60,80,100,120,140], "format": ".3f", "tickSize": 4, "labelPadding": 10, "titlePadding": 5, "labelOverlap": false}},
                "y2": {"field": "hi"}
              }
            },
            {
              "transform": [{"filter": "datum.series === 'LN18 Adherent'"}, {"fold": ["lo", "hi"], "as": ["k", "cap"]}],
              "mark": {"type": "rule", "color": "#222222", "strokeWidth": 1.3},
              "encoding": {
                "x": {"field": "cond", "type": "nominal", "title": "[DOX]", "bandPosition": 0.29, "scale": {"type": "band", "domain": ["0 µM (0 µM Gefitinib)", "0.01 µM (0 µM Gefitinib)", "0 µM (5 µM Gefitinib)", "0.01 µM (5 µM Gefitinib)"], "paddingInner": 0, "paddingOuter": 0}, "axis": {"labelExpr": "split(datum.label, ' (')[0]", "labelAngle": 0, "tickBand": "extent", "tickSize": 5, "labelPadding": 7, "titleX": 280, "titleY": 19, "titleAlign": "left", "titleBaseline": "middle", "titleAngle": 0, "titleFontSize": 11.5}},
                "x2": {"field": "cond", "bandPosition": 0.42},
                "y": {"field": "cap", "type": "quantitative", "title": "% DMSO Control", "scale": {"domain": [0, 140]}, "axis": {"values": [0,20,40,60,80,100,120,140], "format": ".3f", "tickSize": 4, "labelPadding": 10, "titlePadding": 5, "labelOverlap": false}}
              }
            },
            {
              "transform": [{"filter": "datum.series === 'LN18 Spheres'"}, {"fold": ["lo", "hi"], "as": ["k", "cap"]}],
              "mark": {"type": "rule", "color": "#222222", "strokeWidth": 1.3},
              "encoding": {
                "x": {"field": "cond", "type": "nominal", "title": "[DOX]", "bandPosition": 0.58, "scale": {"type": "band", "domain": ["0 µM (0 µM Gefitinib)", "0.01 µM (0 µM Gefitinib)", "0 µM (5 µM Gefitinib)", "0.01 µM (5 µM Gefitinib)"], "paddingInner": 0, "paddingOuter": 0}, "axis": {"labelExpr": "split(datum.label, ' (')[0]", "labelAngle": 0, "tickBand": "extent", "tickSize": 5, "labelPadding": 7, "titleX": 280, "titleY": 19, "titleAlign": "left", "titleBaseline": "middle", "titleAngle": 0, "titleFontSize": 11.5}},
                "x2": {"field": "cond", "bandPosition": 0.71},
                "y": {"field": "cap", "type": "quantitative", "title": "% DMSO Control", "scale": {"domain": [0, 140]}, "axis": {"values": [0,20,40,60,80,100,120,140], "format": ".3f", "tickSize": 4, "labelPadding": 10, "titlePadding": 5, "labelOverlap": false}}
              }
            },
            {
              "data": {"values": [
                {"cond": "0 µM (0 µM Gefitinib)", "y1": 115.3, "y2": 140.7},
                {"cond": "0.01 µM (0 µM Gefitinib)", "y1": 65.3, "y2": 140.7}
              ]},
              "mark": {"type": "rule", "color": "#1a1a1a", "strokeWidth": 1.3},
              "encoding": {
                "x": {"field": "cond", "type": "nominal", "title": "[DOX]", "bandPosition": 0.355, "scale": {"type": "band", "domain": ["0 µM (0 µM Gefitinib)", "0.01 µM (0 µM Gefitinib)", "0 µM (5 µM Gefitinib)", "0.01 µM (5 µM Gefitinib)"], "paddingInner": 0, "paddingOuter": 0}, "axis": {"labelExpr": "split(datum.label, ' (')[0]", "labelAngle": 0, "tickBand": "extent", "tickSize": 5, "labelPadding": 7, "titleX": 280, "titleY": 19, "titleAlign": "left", "titleBaseline": "middle", "titleAngle": 0, "titleFontSize": 11.5}},
                "y": {"field": "y1", "type": "quantitative", "title": "% DMSO Control", "scale": {"domain": [0, 140]}, "axis": {"values": [0,20,40,60,80,100,120,140], "format": ".3f", "tickSize": 4, "labelPadding": 10, "titlePadding": 5, "labelOverlap": false}},
                "y2": {"field": "y2"}
              }
            },
            {
              "data": {"values": [
                {"cond": "0 µM (5 µM Gefitinib)", "y1": 115, "y2": 139.5},
                {"cond": "0.01 µM (5 µM Gefitinib)", "y1": 35.9, "y2": 139.5}
              ]},
              "mark": {"type": "rule", "color": "#1a1a1a", "strokeWidth": 1.3},
              "encoding": {
                "x": {"field": "cond", "type": "nominal", "title": "[DOX]", "bandPosition": 0.645, "scale": {"type": "band", "domain": ["0 µM (0 µM Gefitinib)", "0.01 µM (0 µM Gefitinib)", "0 µM (5 µM Gefitinib)", "0.01 µM (5 µM Gefitinib)"], "paddingInner": 0, "paddingOuter": 0}, "axis": {"labelExpr": "split(datum.label, ' (')[0]", "labelAngle": 0, "tickBand": "extent", "tickSize": 5, "labelPadding": 7, "titleX": 280, "titleY": 19, "titleAlign": "left", "titleBaseline": "middle", "titleAngle": 0, "titleFontSize": 11.5}},
                "y": {"field": "y1", "type": "quantitative", "title": "% DMSO Control", "scale": {"domain": [0, 140]}, "axis": {"values": [0,20,40,60,80,100,120,140], "format": ".3f", "tickSize": 4, "labelPadding": 10, "titlePadding": 5, "labelOverlap": false}},
                "y2": {"field": "y2"}
              }
            },
            {
              "data": {"values": [{"from": "0 µM (0 µM Gefitinib)", "to": "0.01 µM (0 µM Gefitinib)", "y1": 140.7}]},
              "mark": {"type": "rule", "color": "#1a1a1a", "strokeWidth": 1.3},
              "encoding": {
                "x": {"field": "from", "type": "nominal", "title": "[DOX]", "bandPosition": 0.355, "scale": {"type": "band", "domain": ["0 µM (0 µM Gefitinib)", "0.01 µM (0 µM Gefitinib)", "0 µM (5 µM Gefitinib)", "0.01 µM (5 µM Gefitinib)"], "paddingInner": 0, "paddingOuter": 0}, "axis": {"labelExpr": "split(datum.label, ' (')[0]", "labelAngle": 0, "tickBand": "extent", "tickSize": 5, "labelPadding": 7, "titleX": 280, "titleY": 19, "titleAlign": "left", "titleBaseline": "middle", "titleAngle": 0, "titleFontSize": 11.5}},
                "x2": {"field": "to", "bandPosition": 0.355},
                "y": {"field": "y1", "type": "quantitative", "title": "% DMSO Control", "scale": {"domain": [0, 140]}, "axis": {"values": [0,20,40,60,80,100,120,140], "format": ".3f", "tickSize": 4, "labelPadding": 10, "titlePadding": 5, "labelOverlap": false}}
              }
            },
            {
              "data": {"values": [{"from": "0 µM (5 µM Gefitinib)", "to": "0.01 µM (5 µM Gefitinib)", "y1": 139.5}]},
              "mark": {"type": "rule", "color": "#1a1a1a", "strokeWidth": 1.3},
              "encoding": {
                "x": {"field": "from", "type": "nominal", "title": "[DOX]", "bandPosition": 0.645, "scale": {"type": "band", "domain": ["0 µM (0 µM Gefitinib)", "0.01 µM (0 µM Gefitinib)", "0 µM (5 µM Gefitinib)", "0.01 µM (5 µM Gefitinib)"], "paddingInner": 0, "paddingOuter": 0}, "axis": {"labelExpr": "split(datum.label, ' (')[0]", "labelAngle": 0, "tickBand": "extent", "tickSize": 5, "labelPadding": 7, "titleX": 280, "titleY": 19, "titleAlign": "left", "titleBaseline": "middle", "titleAngle": 0, "titleFontSize": 11.5}},
                "x2": {"field": "to", "bandPosition": 0.645},
                "y": {"field": "y1", "type": "quantitative", "title": "% DMSO Control", "scale": {"domain": [0, 140]}, "axis": {"values": [0,20,40,60,80,100,120,140], "format": ".3f", "tickSize": 4, "labelPadding": 10, "titlePadding": 5, "labelOverlap": false}}
              }
            },
            {
              "data": {"values": [{"cond": "0 µM (0 µM Gefitinib)", "s": 148, "label": "*"}]},
              "mark": {"type": "text", "fontSize": 15, "color": "#333333", "baseline": "middle"},
              "encoding": {
                "x": {"field": "cond", "type": "nominal", "title": "[DOX]", "bandPosition": 0.855, "scale": {"type": "band", "domain": ["0 µM (0 µM Gefitinib)", "0.01 µM (0 µM Gefitinib)", "0 µM (5 µM Gefitinib)", "0.01 µM (5 µM Gefitinib)"], "paddingInner": 0, "paddingOuter": 0}, "axis": {"labelExpr": "split(datum.label, ' (')[0]", "labelAngle": 0, "tickBand": "extent", "tickSize": 5, "labelPadding": 7, "titleX": 280, "titleY": 19, "titleAlign": "left", "titleBaseline": "middle", "titleAngle": 0, "titleFontSize": 11.5}},
                "y": {"field": "s", "type": "quantitative", "title": "% DMSO Control", "scale": {"domain": [0, 140]}, "axis": {"values": [0,20,40,60,80,100,120,140], "format": ".3f", "tickSize": 4, "labelPadding": 10, "titlePadding": 5, "labelOverlap": false}},
                "text": {"field": "label"}
              }
            },
            {
              "data": {"values": [{"cond": "0.01 µM (5 µM Gefitinib)", "s": 147.2, "label": "**"}]},
              "mark": {"type": "text", "fontSize": 15, "color": "#333333", "baseline": "middle"},
              "encoding": {
                "x": {"field": "cond", "type": "nominal", "title": "[DOX]", "bandPosition": 0.145, "scale": {"type": "band", "domain": ["0 µM (0 µM Gefitinib)", "0.01 µM (0 µM Gefitinib)", "0 µM (5 µM Gefitinib)", "0.01 µM (5 µM Gefitinib)"], "paddingInner": 0, "paddingOuter": 0}, "axis": {"labelExpr": "split(datum.label, ' (')[0]", "labelAngle": 0, "tickBand": "extent", "tickSize": 5, "labelPadding": 7, "titleX": 280, "titleY": 19, "titleAlign": "left", "titleBaseline": "middle", "titleAngle": 0, "titleFontSize": 11.5}},
                "y": {"field": "s", "type": "quantitative", "title": "% DMSO Control", "scale": {"domain": [0, 140]}, "axis": {"values": [0,20,40,60,80,100,120,140], "format": ".3f", "tickSize": 4, "labelPadding": 10, "titlePadding": 5, "labelOverlap": false}},
                "text": {"field": "label"}
              }
            },
            {
              "data": {"values": [
                {"gef": "0 µM Gefitinib", "from": "0 µM (0 µM Gefitinib)", "to": "0.01 µM (0 µM Gefitinib)"},
                {"gef": "5 µM Gefitinib", "from": "0 µM (5 µM Gefitinib)", "to": "0.01 µM (5 µM Gefitinib)"}
              ]},
              "mark": {"type": "text", "fontSize": 13, "color": "#262626", "baseline": "middle"},
              "encoding": {
                "x": {"field": "from", "type": "nominal", "title": "[DOX]", "bandPosition": 1, "scale": {"type": "band", "domain": ["0 µM (0 µM Gefitinib)", "0.01 µM (0 µM Gefitinib)", "0 µM (5 µM Gefitinib)", "0.01 µM (5 µM Gefitinib)"], "paddingInner": 0, "paddingOuter": 0}, "axis": {"labelExpr": "split(datum.label, ' (')[0]", "labelAngle": 0, "tickBand": "extent", "tickSize": 5, "labelPadding": 7, "titleX": 280, "titleY": 19, "titleAlign": "left", "titleBaseline": "middle", "titleAngle": 0, "titleFontSize": 11.5}},
                "y": {"datum": -23.2, "type": "quantitative", "title": "% DMSO Control", "scale": {"domain": [0, 140]}, "axis": {"values": [0,20,40,60,80,100,120,140], "format": ".3f", "tickSize": 4, "labelPadding": 10, "titlePadding": 5, "labelOverlap": false}},
                "text": {"field": "gef"}
              }
            },
            {
              "data": {"values": [
                {"gef": "0 µM Gefitinib", "from": "0 µM (0 µM Gefitinib)", "to": "0.01 µM (0 µM Gefitinib)"},
                {"gef": "5 µM Gefitinib", "from": "0 µM (5 µM Gefitinib)", "to": "0.01 µM (5 µM Gefitinib)"}
              ]},
              "mark": {"type": "rule", "color": "#111111", "strokeWidth": 1.5},
              "encoding": {
                "x": {"field": "from", "type": "nominal", "title": "[DOX]", "bandPosition": 0.17, "scale": {"type": "band", "domain": ["0 µM (0 µM Gefitinib)", "0.01 µM (0 µM Gefitinib)", "0 µM (5 µM Gefitinib)", "0.01 µM (5 µM Gefitinib)"], "paddingInner": 0, "paddingOuter": 0}, "axis": {"labelExpr": "split(datum.label, ' (')[0]", "labelAngle": 0, "tickBand": "extent", "tickSize": 5, "labelPadding": 7, "titleX": 280, "titleY": 19, "titleAlign": "left", "titleBaseline": "middle", "titleAngle": 0, "titleFontSize": 11.5}},
                "x2": {"field": "to", "bandPosition": 0.95},
                "y": {"datum": -16.3, "type": "quantitative", "title": "% DMSO Control", "scale": {"domain": [0, 140]}, "axis": {"values": [0,20,40,60,80,100,120,140], "format": ".3f", "tickSize": 4, "labelPadding": 10, "titlePadding": 5, "labelOverlap": false}}
              }
            }
          ]
        }
      ],
      "spacing": -4,
      "resolve": {"scale": {"color": "independent", "x": "independent", "y": "independent"}, "legend": {"color": "independent"}}
    }
  ]
}
